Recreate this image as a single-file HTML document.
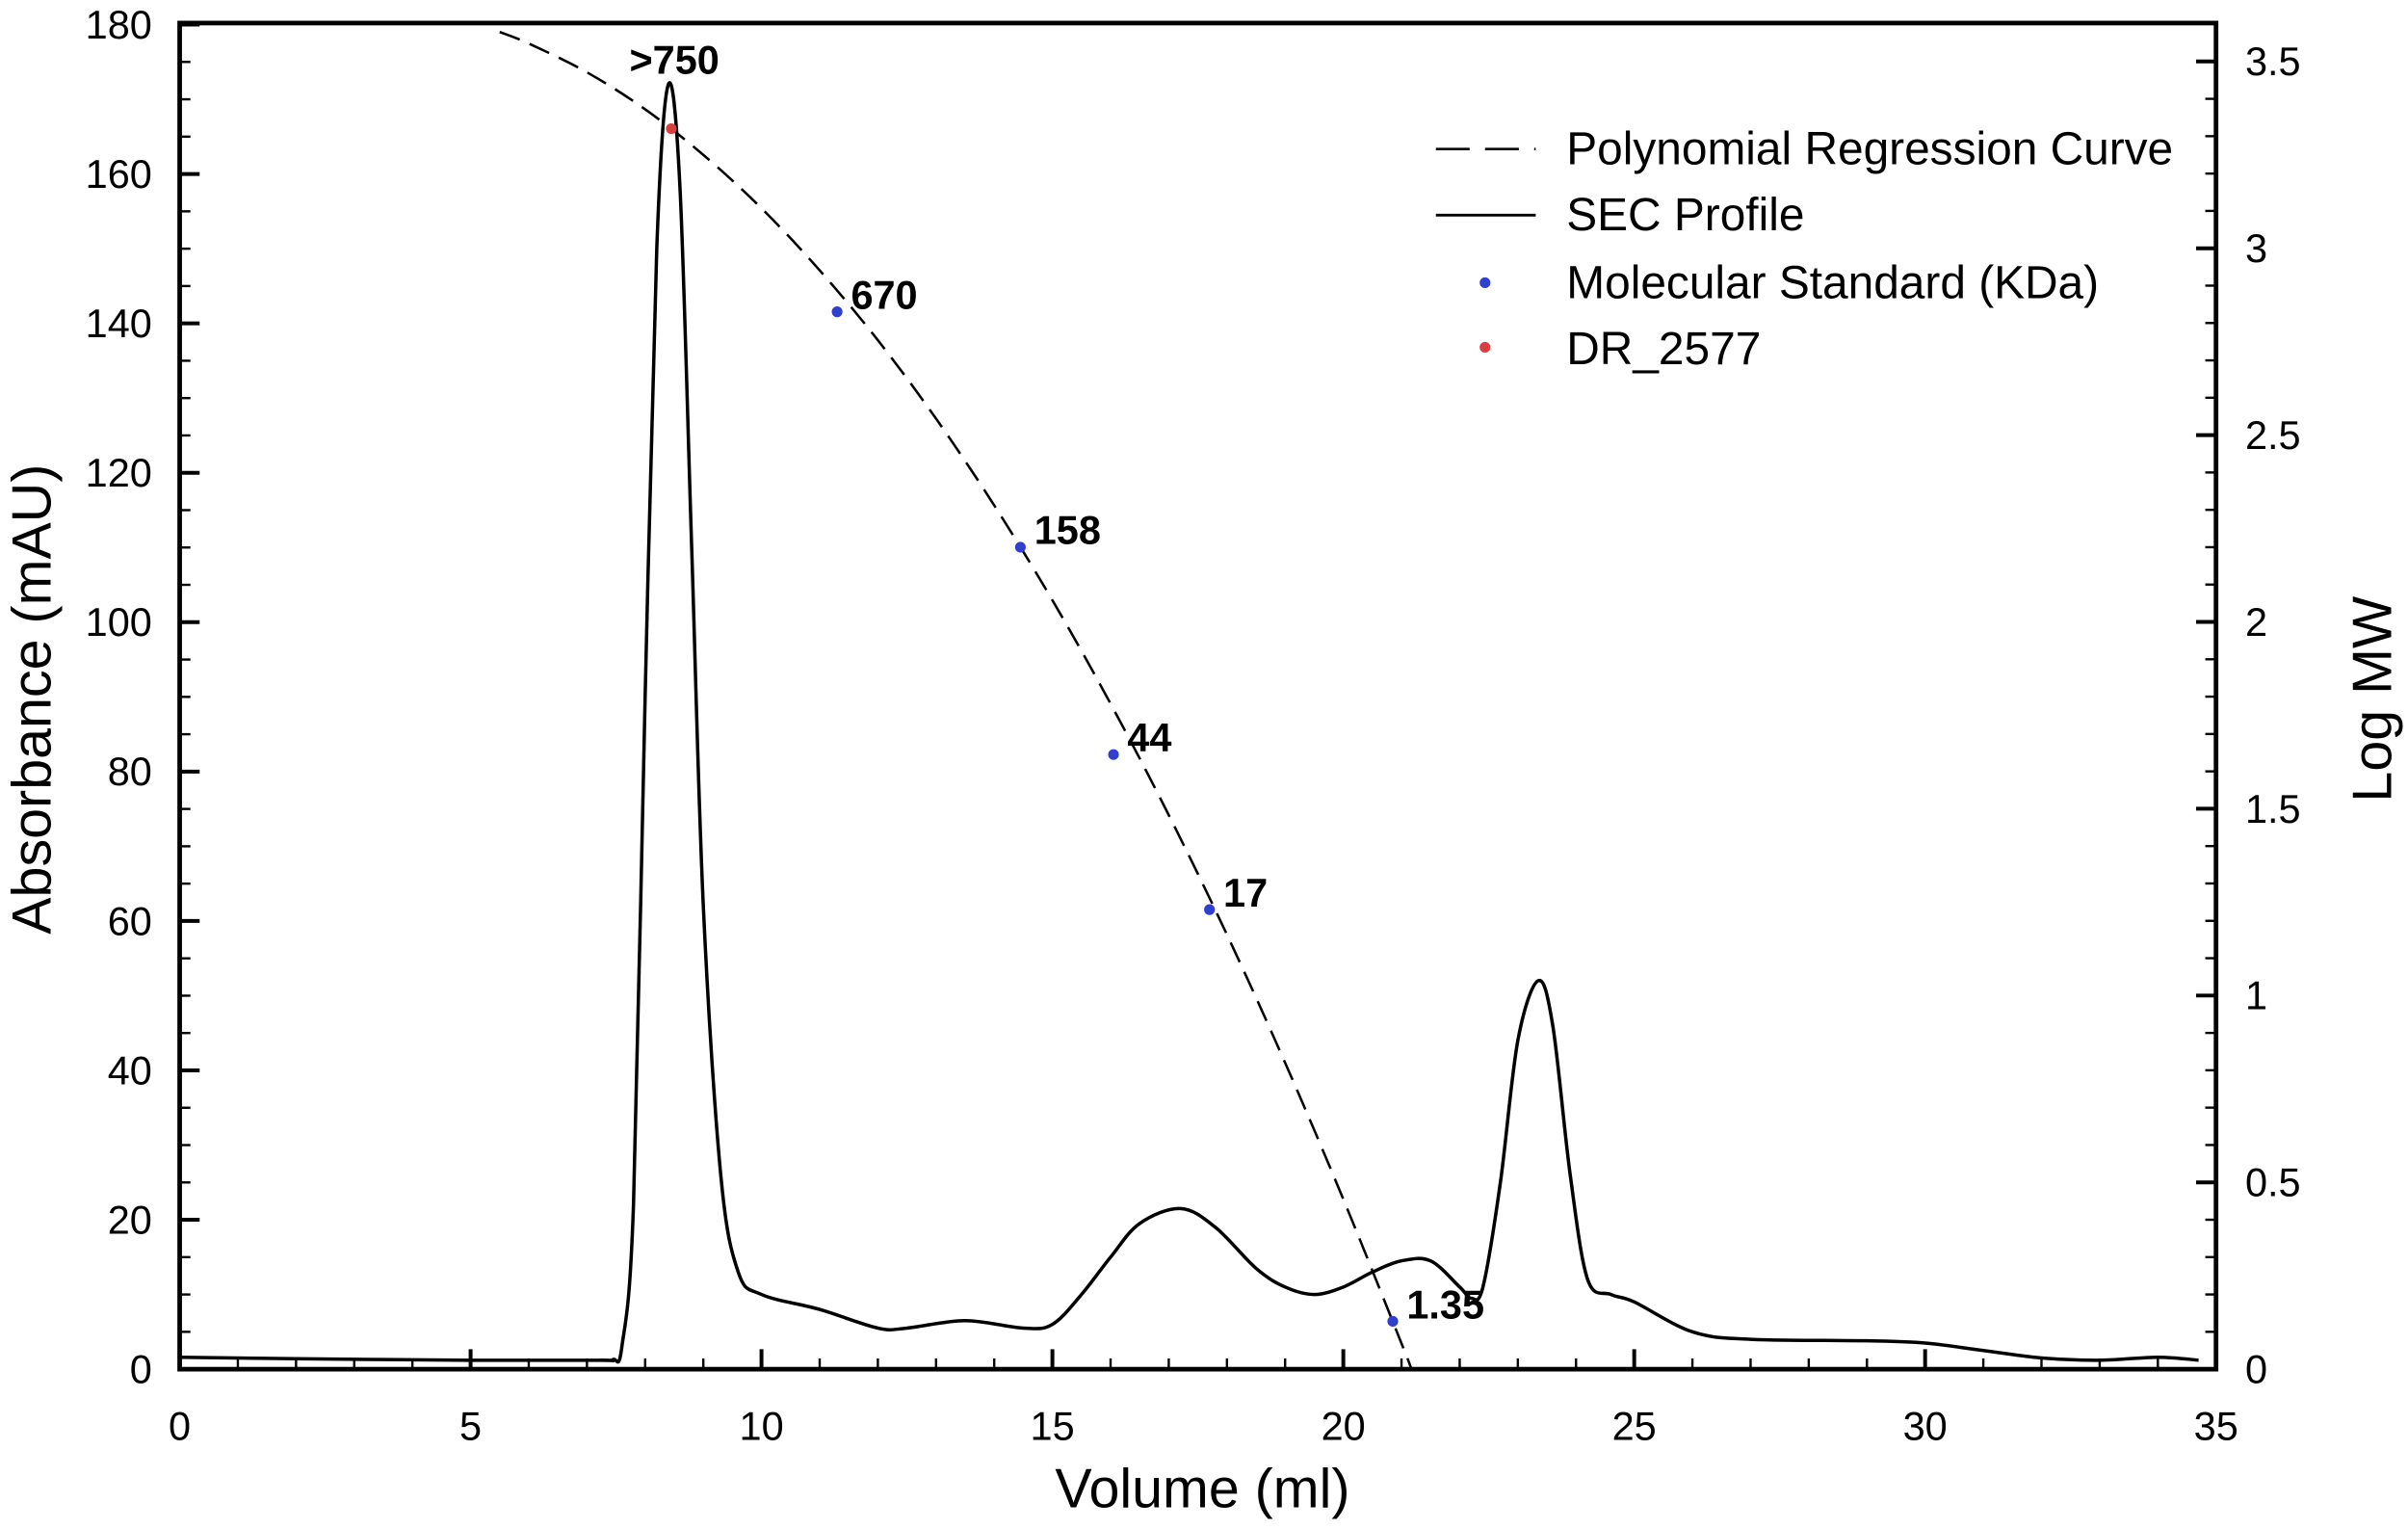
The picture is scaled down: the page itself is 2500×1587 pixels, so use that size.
<!DOCTYPE html>
<html><head><meta charset="utf-8"><style>
html,body{margin:0;padding:0;background:#fff}
svg{display:block}
text{font-family:"Liberation Sans",Arial,sans-serif;fill:#000}
</style></head><body>
<svg id="chart" width="2500" height="1587" viewBox="0 0 1568 995" preserveAspectRatio="none" xmlns="http://www.w3.org/2000/svg">
<defs><clipPath id="pc"><rect x="117" y="15" width="1326" height="876"/></clipPath></defs>
<g id="axes"></g>
<g id="marks" clip-path="url(#pc)"></g>
<g id="labels"></g>
<g id="legend">
<line x1="935" y1="97" x2="1000" y2="97" stroke="#000" stroke-width="1.6" stroke-dasharray="22,10"/>
<text x="1020" y="107" font-size="30">Polynomial Regression Curve</text>
<line x1="935" y1="140" x2="1000" y2="140" stroke="#000" stroke-width="1.8"/>
<text x="1020" y="150" font-size="30">SEC Profile</text>
<circle cx="967" cy="184" r="3.5" fill="#2f3fcf"/>
<text x="1020" y="194" font-size="30">Molecular Standard (KDa)</text>
<circle cx="967" cy="226" r="3.5" fill="#d84040"/>
<text x="1020" y="237" font-size="30">DR_2577</text>
</g>
<text x="783" y="981" font-size="36" text-anchor="middle">Volume (ml)</text>
<text transform="translate(33,455) rotate(-90)" font-size="36" text-anchor="middle">Absorbance (mAU)</text>
<text transform="translate(1557,455) rotate(-90)" font-size="36" text-anchor="middle">Log MW</text>
</svg>
<script>
// SEC profile data
const secVolume = [0,2,5,7.2,7.45,7.6,7.8,8.0,8.2,8.4,8.6,8.8,9.0,9.3,9.6,10,11,12,12.5,13.5,14.5,15,15.5,16,16.5,17.2,17.8,18.5,19,19.5,20,20.5,21,21.5,22,22.2,22.4,22.7,23,23.35,23.6,23.9,24.2,24.6,25,26,27,29,30,31,32,33,34,34.7];
const secAbs    = [1.6,1.4,1.2,1.2,1.3,3,22,90,150,172,158,110,62,26,13,10,8,5.5,5.5,6.5,5.5,6,10,15,19.5,21.5,19,13.5,11,10,11,13,14.5,14.5,11,9.5,11,25,44,52,46,26,12,10,9,5,4,3.8,3.5,2.5,1.5,1.2,1.6,1.2];
// regression curve (volume, log MW)
const regVolume = [5.5,6,7,8,9,10,11,12,13,14,15,16,17,18,19,20,21,21.17];
const regLogMW  = [3.579,3.548,3.471,3.372,3.250,3.107,2.941,2.754,2.544,2.312,2.058,1.781,1.483,1.163,0.820,0.455,0.069,0.0];
// standards
const stdVolume = [11.3,14.45,16.05,17.7,20.85];
const stdLogMW  = [2.83,2.20,1.645,1.23,0.128];
const stdLabels = ["670","158","44","17","1.35"];
const drVolume = [8.45];
const drLogMW  = [3.32];
const drLabels = [">750"];
const xTicks = [0,5,10,15,20,25,30,35];
const yTicks = [0,20,40,60,80,100,120,140,160,180];
const y2Ticks = [0,0.5,1,1.5,2,2.5,3,3.5];

const L=117,R=1443,T=15,B=891;
const xs=v=>L+v*(R-L)/35;
const ys=a=>B-a*(B-16)/180;
const y2s=m=>B-m*(B-40)/3.5;
const NS="http://www.w3.org/2000/svg";
function mk(tag,attrs,parent){const e=document.createElementNS(NS,tag);for(const k in attrs)e.setAttribute(k,attrs[k]);parent.appendChild(e);return e;}
function smooth(px,py){let d=`M${px[0]},${py[0]}`;for(let i=0;i<px.length-1;i++){const x0=px[Math.max(i-1,0)],y0=py[Math.max(i-1,0)],x1=px[i],y1=py[i],x2=px[i+1],y2=py[i+1],x3=px[Math.min(i+2,px.length-1)],y3=py[Math.min(i+2,px.length-1)];d+=` C${x1+(x2-x0)/6},${y1+(y2-y0)/6} ${x2-(x3-x1)/6},${y2-(y3-y1)/6} ${x2},${y2}`;}return d;}
const axes=document.getElementById('axes'),marks=document.getElementById('marks'),labels=document.getElementById('labels');
for(let v=0;v<=35;v++){const major=v%5===0;const t=mk('line',{x1:xs(v),x2:xs(v),y1:B,y2:B-(major?13:7),stroke:'#000','stroke-width':major?2.5:1.5},axes);

}
xTicks.forEach(v=>{const t=mk('text',{x:xs(v),y:937,'font-size':26,'text-anchor':'middle'},axes);t.textContent=v;

});
for(let a=0;a<=180;a+=5){const major=a%20===0;const t=mk('line',{x1:L,x2:L+(major?13:7),y1:ys(a),y2:ys(a),stroke:'#000','stroke-width':major?2.5:1.5},axes);

}
yTicks.forEach(a=>{const t=mk('text',{x:99,y:ys(a)+9,'font-size':26,'text-anchor':'end'},axes);t.textContent=a;

});
for(let i=1;i<=35;i++){const m=i/10;const major=i%5===0;const t=mk('line',{x1:R,x2:R-(major?13:7),y1:y2s(m),y2:y2s(m),stroke:'#000','stroke-width':major?2.5:1.5},axes);

}
y2Ticks.forEach(m=>{const t=mk('text',{x:1462,y:y2s(m)+9,'font-size':26},axes);t.textContent=m;

});
const fr=mk('rect',{x:L,y:T,width:R-L,height:B-T,fill:'none',stroke:'#000','stroke-width':3},axes);


const sec=mk('path',{d:smooth(secVolume.map(xs),secAbs.map(ys)),fill:'none',stroke:'#000','stroke-width':2.2},marks);


const reg=mk('path',{d:smooth(regVolume.map(xs),regLogMW.map(y2s)),fill:'none',stroke:'#000','stroke-width':1.6,'stroke-dasharray':'14,7'},marks);


stdVolume.forEach((v,i)=>{const c=mk('circle',{cx:xs(v),cy:y2s(stdLogMW[i]),r:3.5,fill:'#2f3fcf'},marks);


const t=mk('text',{x:xs(v)+9,y:y2s(stdLogMW[i])-2,'font-size':26,'font-weight':'bold'},labels);t.textContent=stdLabels[i];

});
drVolume.forEach((v,i)=>{const c=mk('circle',{cx:xs(v),cy:y2s(drLogMW[i]),r:3.5,fill:'#d84040'},marks);


const t=mk('text',{x:xs(v)+2,y:48,'font-size':26,'font-weight':'bold','text-anchor':'middle'},labels);t.textContent=drLabels[i];

});
</script>
</body></html>
